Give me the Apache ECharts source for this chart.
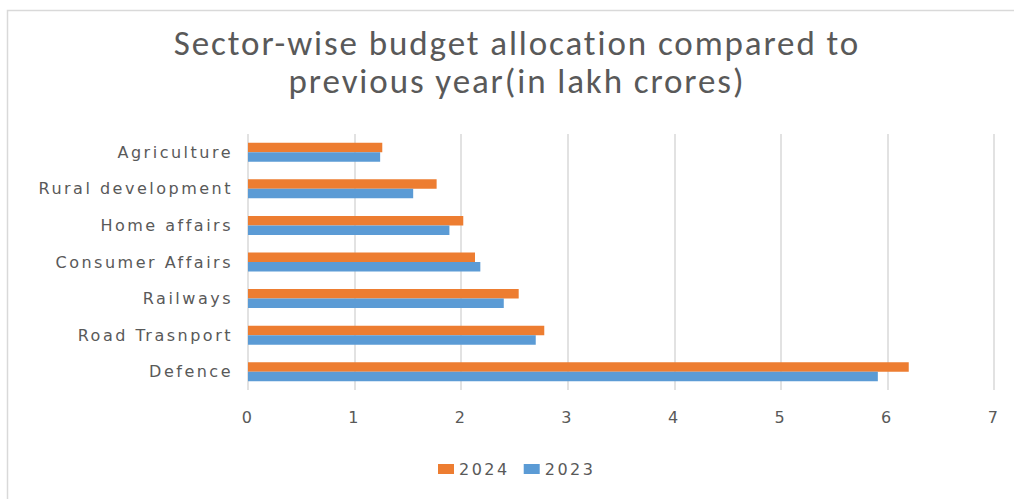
<!DOCTYPE html>
<html>
<head>
<meta charset="utf-8">
<script src="https://cdn.jsdelivr.net/npm/echarts@6/dist/echarts.min.js"></script>
<style>
html,body{margin:0;padding:0;background:#fff;}
#chart{width:1014px;height:499px;}
</style>
</head>
<body>
<div id="chart"></div>
<script>
const categories = ['Defence', 'Road Trasnport', 'Railways', 'Consumer Affairs', 'Home affairs', 'Rural development', 'Agriculture'];
const values2023 = [5.91, 2.70, 2.40, 2.18, 1.89, 1.55, 1.24];
const values2024 = [6.20, 2.78, 2.54, 2.13, 2.02, 1.77, 1.26];
const xTicks = { min: 0, max: 7, interval: 1 };
const titleText = 'Sector-wise budget allocation compared to\nprevious year(in lakh crores)';

const txt = '#595959';
const labelFont = 'DejaVu Sans';
const chart = echarts.init(document.getElementById('chart'), null, { renderer: 'svg' });
chart.setOption({
  animation: false,
  backgroundColor: '#fff',
  title: {
    text: titleText,
    left: 517,
    top: 24,
    padding: 0,
    textAlign: 'center',
    textStyle: { fontFamily: 'Carlito, Open Sans', fontSize: 35, fontWeight: 'normal', color: txt, lineHeight: 38 }
  },
  graphic: [{
    type: 'rect', left: 5, top: 8, shape: { width: 1030, height: 510 },
    style: { fill: 'none', stroke: '#d9d9d9', lineWidth: 1.5 }, silent: true, z: -10
  }],
  legend: {
    data: ['2024', '2023'],
    left: 433, top: 455,
    itemWidth: 16, itemHeight: 10, itemGap: 24,
    icon: 'rect',
    textStyle: { fontFamily: labelFont, fontSize: 16, color: txt, lineHeight: 18 }
  },
  grid: { left: 248, right: 20, top: 134, bottom: 109, containLabel: false },
  xAxis: {
    type: 'value', min: xTicks.min, max: xTicks.max, interval: xTicks.interval,
    axisLine: { show: false }, axisTick: { show: false },
    splitLine: { show: true, lineStyle: { color: '#d9d9d9', width: 1.5 } },
    axisLabel: { fontFamily: labelFont, fontSize: 16, color: txt, margin: 19 }
  },
  yAxis: {
    type: 'category', data: categories,
    axisLine: { show: false }, axisTick: { show: false },
    axisLabel: { fontFamily: labelFont, fontSize: 16, color: txt, margin: 15 }
  },
  series: [
    { name: '2024', type: 'bar', data: values2024, itemStyle: { color: '#ED7D31' }, barGap: '0%', barCategoryGap: '48%' },
    { name: '2023', type: 'bar', data: values2023, itemStyle: { color: '#5B9BD5' }, barGap: '0%', barCategoryGap: '48%' }
  ]
});
function spaceLetters() {
  document.querySelectorAll('#chart text').forEach(function (el) {
    const fs = parseFloat(getComputedStyle(el).fontSize);
    el.style.letterSpacing = fs < 20 ? '2.5px' : '1.9px';
  });
}
chart.on('finished', spaceLetters);
setTimeout(spaceLetters, 50);
</script>
</body>
</html>
